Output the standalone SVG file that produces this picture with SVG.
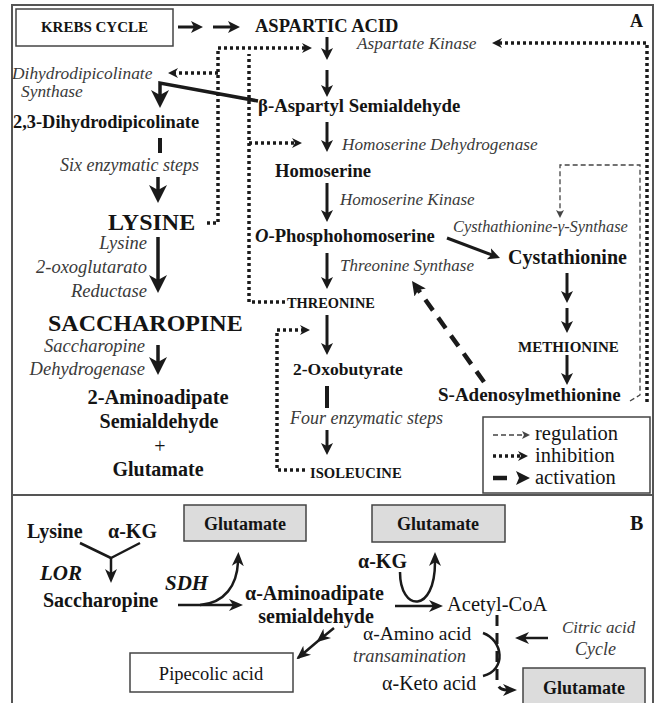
<svg xmlns="http://www.w3.org/2000/svg" width="656" height="703" viewBox="0 0 656 703">
<style>
text{font-family:"Liberation Serif","Times New Roman",serif;fill:#141414}
.b{font-weight:bold}
.i{font-style:italic;fill:#3a3a3a}
.bi{font-weight:bold;font-style:italic}
.m{text-anchor:middle}
.e{text-anchor:end}
.frame{fill:none;stroke:#555;stroke-width:2}
.box{fill:#fff;stroke:#444;stroke-width:1.5}
.gbox{fill:#dcdcdc;stroke:#444;stroke-width:1.5}
.arr{fill:none;stroke:#1a1a1a;stroke-width:3;marker-end:url(#ah)}
.big{fill:none;stroke:#1a1a1a;stroke-width:3.5;marker-end:url(#ahb)}
.dash{fill:none;stroke:#1a1a1a;stroke-width:4}
.dot{fill:none;stroke:#1a1a1a;stroke-width:3.5;stroke-dasharray:3 3}
.doti{fill:none;stroke:#1a1a1a;stroke-width:3.5;stroke-dasharray:3 3;marker-end:url(#ai)}
.reg{fill:none;stroke:#444;stroke-width:1.3;stroke-dasharray:5 3;marker-end:url(#ar)}
.act{fill:none;stroke:#1a1a1a;stroke-width:4.5;stroke-dasharray:13 9;marker-end:url(#aa)}
.bl{fill:none;stroke:#1a1a1a;stroke-width:2.5}
.ba{fill:none;stroke:#1a1a1a;stroke-width:2.5;marker-end:url(#bh)}
.dba{fill:none;stroke:#1a1a1a;stroke-width:3;stroke-dasharray:11 7;marker-end:url(#bh)}
</style>
<defs>
<marker id="ah" viewBox="0 0 12 12" refX="4" refY="6" markerWidth="12" markerHeight="12" markerUnits="userSpaceOnUse" orient="auto"><path d="M0,0 L12,6 L0,12 L3,6 z" fill="#1a1a1a"/></marker>
<marker id="ahb" viewBox="0 0 18 18" refX="6" refY="9" markerWidth="18" markerHeight="18" markerUnits="userSpaceOnUse" orient="auto"><path d="M0,0 L18,9 L0,18 L5,9 z" fill="#1a1a1a"/></marker>
<marker id="ai" viewBox="0 0 10 10" refX="3" refY="5" markerWidth="10" markerHeight="10" markerUnits="userSpaceOnUse" orient="auto"><path d="M0,0 L10,5 L0,10 L3,5 z" fill="#1a1a1a"/></marker>
<marker id="ar" viewBox="0 0 8 8" refX="2" refY="4" markerWidth="8" markerHeight="8" markerUnits="userSpaceOnUse" orient="auto"><path d="M0,0 L8,4 L0,8 L2,4 z" fill="#444"/></marker>
<marker id="aa" viewBox="0 0 14 14" refX="3" refY="7" markerWidth="14" markerHeight="14" markerUnits="userSpaceOnUse" orient="auto"><path d="M0,0 L14,7 L0,14 L3,7 z" fill="#1a1a1a"/></marker>
<marker id="bh" viewBox="0 0 14 14" refX="4" refY="7" markerWidth="14" markerHeight="14" markerUnits="userSpaceOnUse" orient="auto"><path d="M0,1 L14,7 L0,13 L4,7 z" fill="#1a1a1a"/></marker>
<marker id="bt" viewBox="0 0 14 14" refX="12" refY="7" markerWidth="14" markerHeight="14" markerUnits="userSpaceOnUse" orient="auto"><path d="M0,1 L14,7 L0,13 L4,7 z" fill="#1a1a1a"/></marker>
</defs>

<rect x="0" y="0" width="656" height="703" fill="#fff"/>

<g id="frame">
<path class="frame" d="M12,710 V5 H653 V710"/>
<line class="frame" x1="12" y1="495" x2="653" y2="495"/>
<text class="b" x="630" y="27" font-size="18">A</text>
<text class="b" x="630" y="530" font-size="20">B</text>
</g>

<g id="connectors">
<path class="arr" d="M178,27 H195"/>
<path class="arr" d="M213,27 H232"/>
<path class="arr" d="M327,37 V52"/>
<path class="arr" d="M327,70 V89"/>
<path class="arr" d="M327,122 V144"/>
<path class="arr" d="M327,183 V214"/>
<path class="arr" d="M327,253 V281"/>
<path class="arr" d="M327,315 V347"/>
<path class="dash" d="M327,386 V408"/>
<path class="arr" d="M327,430 V447"/>
<path class="arr" d="M447,238 L492.5,255.2"/>
<path class="arr" d="M567,273 V295"/>
<path class="arr" d="M567,308 V325"/>
<path class="arr" d="M567,355 V377"/>
<path class="big" d="M258,101 L160,83 V96"/>
<path class="dash" d="M160,138 V153"/>
<path class="big" d="M158,177 V191"/>
<path class="big" d="M158,237 V281"/>
<path class="big" d="M158,345 V363"/>
<path class="doti" d="M207,223 H218 V48 H305"/>
<path class="doti" d="M218,73 H175"/>
<path class="dot" d="M285,302 H249 V54"/>
<path class="doti" d="M249,143 H295"/>
<path class="doti" d="M305,470 H277 V330 H303"/>
<path class="doti" d="M647,402 V43 H499"/>
<path class="reg" d="M630,401 L640,395 V165 H560 V212"/>
<path class="act" d="M484,382 L418.4,290"/>
<path class="bl" d="M80,543 L111,558 M140,543 L111,558"/>
<path class="ba" d="M111,558 V573"/>
<path class="ba" d="M178,605 H233"/>
<path class="ba" d="M200,605 C225,603 237,585 238,562"/>
<path class="ba" d="M400,572 C400,612 435,614 435,562"/>
<path class="ba" d="M395,606 H433"/>
<path class="dba" d="M497,615 V680 Q497,690 507,690"/>
<path class="bl" d="M483,633 C503,640 507,670 483,676"/>
<path class="ba" d="M548,638 H525"/>
<path class="bl" d="M334,628 L318,641 L298,658" marker-mid="url(#bt)" marker-end="url(#bt)"/>
</g>

<g id="krebs">
<rect class="box" x="16" y="9" width="157" height="37"/>
<text class="b m" x="94.5" y="32" font-size="15">KREBS CYCLE</text>
</g>
<g id="aspartic"><text class="b" x="255" y="32" font-size="18.5">ASPARTIC ACID</text></g>
<g id="ak"><text class="i" x="357" y="49" font-size="17.3">Aspartate Kinase</text></g>
<g id="dhdps"><text class="i" x="12" y="79" font-size="17.4">Dihydrodipicolinate</text><text class="i" x="21" y="97" font-size="17.4">Synthase</text></g>
<g id="basa"><text class="b" x="258" y="112" font-size="18.8">β-Aspartyl Semialdehyde</text></g>
<g id="dhdp"><text class="b" x="13" y="128" font-size="18.4">2,3-Dihydrodipicolinate</text></g>
<g id="hsd"><text class="i" x="342" y="150" font-size="17.2">Homoserine Dehydrogenase</text></g>
<g id="homoserine"><text class="b" x="275" y="177" font-size="18.6">Homoserine</text></g>
<g id="six"><text class="i" x="60" y="171" font-size="18">Six enzymatic steps</text></g>
<g id="hsk"><text class="i" x="340" y="205" font-size="17">Homoserine Kinase</text></g>
<g id="lysine"><text class="b" x="108" y="230" font-size="24">LYSINE</text></g>
<g id="cgs"><text class="i" x="453" y="232" font-size="16.4">Cysthathionine-γ-Synthase</text></g>
<g id="ophs"><text class="b" x="255" y="242" font-size="18.6"><tspan font-style="italic">O</tspan>-Phosphohomoserine</text></g>
<g id="lkr"><text class="i e" x="147" y="249" font-size="18.5">Lysine</text><text class="i e" x="147" y="273" font-size="18.5">2-oxoglutarato</text><text class="i e" x="147" y="297" font-size="18.5">Reductase</text></g>
<g id="cystathionine"><text class="b" x="508" y="264" font-size="20">Cystathionine</text></g>
<g id="ts"><text class="i" x="340" y="271" font-size="17">Threonine Synthase</text></g>
<g id="threonine"><text class="b" x="287" y="308" font-size="14.4">THREONINE</text></g>
<g id="saccharopine"><text class="b" x="48" y="331" font-size="24">SACCHAROPINE</text></g>
<g id="methionine"><text class="b" x="518" y="352" font-size="15">METHIONINE</text></g>
<g id="sdh"><text class="i e" x="145" y="352" font-size="18.5">Saccharopine</text><text class="i e" x="145" y="375" font-size="18.5">Dehydrogenase</text></g>
<g id="oxobutyrate"><text class="b" x="293" y="375" font-size="17.5">2-Oxobutyrate</text></g>
<g id="sam"><text class="b" x="438" y="401" font-size="19">S-Adenosylmethionine</text></g>
<g id="aasa"><text class="b m" x="158" y="404" font-size="20.5">2-Aminoadipate</text><text class="b m" x="159" y="428" font-size="20">Semialdehyde</text><text class="m" x="160" y="453" font-size="20">+</text><text class="b m" x="158" y="476" font-size="20">Glutamate</text></g>
<g id="four"><text class="i" x="290" y="424" font-size="18">Four enzymatic steps</text></g>
<g id="isoleucine"><text class="b" x="310" y="478" font-size="14.6">ISOLEUCINE</text></g>

<g id="legend">
<rect class="box" x="483" y="417" width="167" height="76"/>
<path class="reg" d="M493,435 H524"/>
<path class="doti" d="M493,456 H521"/>
<path class="act" d="M493,478 H519" style="stroke-dasharray:14 30"/>
<text x="535" y="440" font-size="20.5">regulation</text>
<text x="535" y="462" font-size="20.5">inhibition</text>
<text x="535" y="484" font-size="20.5">activation</text>
</g>

<g id="b-lysine"><text class="b" x="27" y="538" font-size="20">Lysine</text></g>
<g id="b-akg1"><text class="b" x="108" y="538" font-size="20">α-KG</text></g>
<g id="b-glu1"><rect class="gbox" x="184" y="505" width="122" height="36"/><text class="b m" x="245" y="530" font-size="18">Glutamate</text></g>
<g id="b-glu2"><rect class="gbox" x="372" y="505" width="133" height="37"/><text class="b m" x="438" y="530" font-size="18">Glutamate</text></g>
<g id="b-lor"><text class="bi" x="40" y="580" font-size="21">LOR</text></g>
<g id="b-sdh"><text class="bi" x="165" y="590" font-size="21">SDH</text></g>
<g id="b-sacch"><text class="b" x="43" y="607" font-size="20">Saccharopine</text></g>
<g id="b-aasa"><text class="b" x="245" y="600" font-size="20">α-Aminoadipate</text><text class="b m" x="316" y="623" font-size="20">semialdehyde</text></g>
<g id="b-akg2"><text class="b" x="358" y="568" font-size="20">α-KG</text></g>
<g id="b-acetyl"><text x="447" y="611" font-size="20.5">Acetyl-CoA</text></g>
<g id="b-aminoacid"><text x="363" y="640" font-size="19.5">α-Amino acid</text><text class="i" x="353" y="662" font-size="18.5">transamination</text><text x="382" y="690" font-size="20">α-Keto acid</text></g>
<g id="b-citric"><text class="i" x="562" y="633" font-size="17">Citric acid</text><text class="i" x="575" y="655" font-size="18">Cycle</text></g>
<g id="b-glu3"><rect class="gbox" x="523" y="668" width="122" height="42"/><text class="b m" x="584" y="694" font-size="18">Glutamate</text></g>
<g id="b-pipecolic"><rect class="box" x="130" y="653" width="163" height="39"/><text class="m" x="211" y="680" font-size="18.5">Pipecolic acid</text></g>
</svg>
